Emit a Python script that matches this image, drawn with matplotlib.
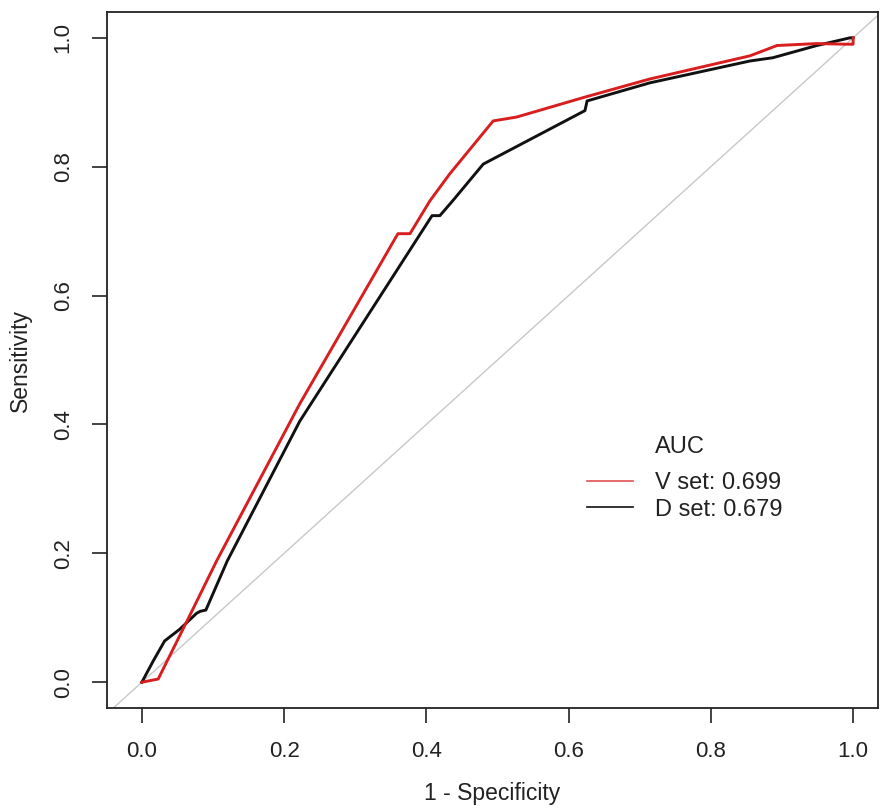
import matplotlib
matplotlib.use("Agg")
import matplotlib.pyplot as plt

plt.rcParams['font.family'] = ['Liberation Sans', 'DejaVu Sans']

# ROC points (1 - specificity, sensitivity)
v_fpr = [0.0, 0.023, 0.068, 0.105, 0.222, 0.360, 0.377, 0.405, 0.433, 0.494,
         0.527, 0.620, 0.714, 0.855, 0.893, 0.949, 0.990, 1.0, 1.0]
v_tpr = [0.0, 0.005, 0.105, 0.188, 0.432, 0.696, 0.696, 0.747, 0.789, 0.871,
         0.877, 0.907, 0.936, 0.972, 0.988, 0.991, 0.990, 0.990, 1.0]

d_fpr = [0.0, 0.016, 0.032, 0.053, 0.077, 0.082, 0.090, 0.120, 0.222, 0.408,
         0.419, 0.437, 0.480, 0.623, 0.626, 0.714, 0.855, 0.887, 0.949, 0.996, 1.0]
d_tpr = [0.0, 0.033, 0.064, 0.082, 0.107, 0.110, 0.112, 0.188, 0.405, 0.724,
         0.724, 0.747, 0.804, 0.887, 0.902, 0.930, 0.964, 0.969, 0.988, 1.0, 1.0]

labels = ['V set: 0.699', 'D set: 0.679']
ticks = [0.0, 0.2, 0.4, 0.6, 0.8, 1.0]
tick_labels = ['0.0', '0.2', '0.4', '0.6', '0.8', '1.0']

fig = plt.figure(figsize=(8.8, 8.1), dpi=100)
ax = fig.add_axes([107 / 880, 1 - 708 / 810, 771 / 880, 696 / 810])

# reference diagonal
ax.axline((0, 0), slope=1, color='#c8c8c8', lw=1.0, zorder=1)

ax.plot(d_fpr, d_tpr, color='#111111', lw=2.1, zorder=2)
ax.plot(v_fpr, v_tpr, color='#d81e1e', lw=2.1, zorder=3)

ax.set_xlim(-0.049, 1.035)
ax.set_ylim(-0.04, 1.04)
ax.set_xticks(ticks)
ax.set_xticklabels(tick_labels)
ax.set_yticks(ticks)
ax.set_yticklabels(tick_labels, rotation=90, va='center')

ax.tick_params(axis='both', length=11, width=1.2, color='#222222',
               labelsize=16, labelcolor='#222222', pad=13)
for spine in ax.spines.values():
    spine.set_linewidth(1.3)
    spine.set_color('#222222')

ax.set_xlabel('1 - Specificity', fontsize=16.5, color='#222222', labelpad=14)
ax.set_ylabel('Sensitivity', fontsize=16.5, color='#222222', labelpad=15)

# legend: handles are the plotted lines, title drawn separately
handles = [plt.Line2D([], [], color='#e05050', lw=1.2),
           plt.Line2D([], [], color='#111111', lw=1.2)]
leg = ax.legend(handles, labels, loc='upper left',
                bbox_to_anchor=((587 - 107) / 771, (708 - 472) / 696),
                frameon=False, fontsize=17,
                handlelength=1.95, handletextpad=0.95, labelspacing=0.2,
                borderpad=0, borderaxespad=0)
for t in leg.get_texts():
    t.set_color('#222222')
ax.text((655 - 107) / 771, (708 - 447) / 696, 'AUC', transform=ax.transAxes,
        ha='left', va='center', fontsize=17, color='#222222')

fig.savefig('out.png', dpi=100)
